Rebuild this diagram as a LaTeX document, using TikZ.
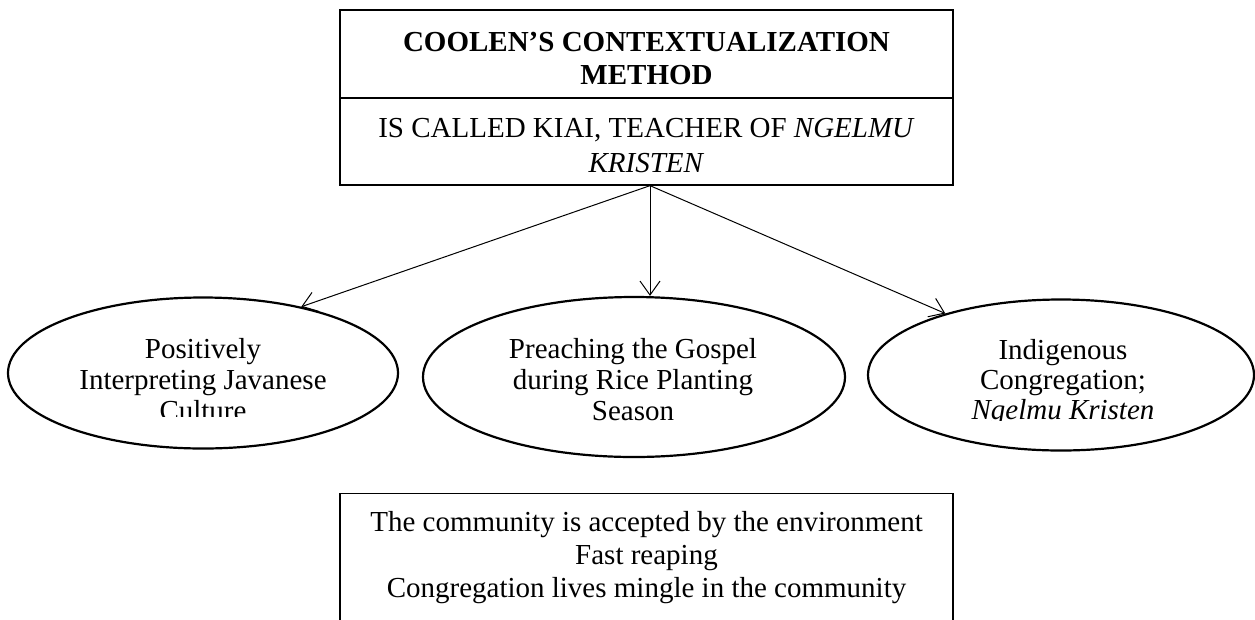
\documentclass[tikz,border=0pt]{standalone}
\usepackage{fontspec}
\setmainfont{Liberation Serif}
\usetikzlibrary{arrows.meta,shapes.geometric}
\begin{document}
\begin{tikzpicture}[x=1pt,y=-1pt,
  txt/.style={font=\fontsize{29}{33}\selectfont},
  boxstyle/.style={draw, line width=1.3pt, rectangle, minimum width=613pt, inner sep=0pt},
  lbl/.style={txt, align=center, inner sep=0pt},
  ell/.style={draw, ellipse, line width=2.2pt, inner sep=0pt},
  conn/.style={line width=1pt, -{Straight Barb[length=14pt,width=20pt,line width=1pt]}}]
\clip (0,0) rectangle (1255,619);
\fill[white] (0,0) rectangle (1255,619);
% top box
\node[boxstyle, minimum height=88pt,
  label={[lbl, font=\fontsize{29}{33}\selectfont\bfseries, yshift=-4.5pt]center:COOLEN’S CONTEXTUALIZATION\\METHOD}]
  (title) at (646.5,54) {};
\node[boxstyle, minimum height=87pt,
  label={[lbl, font=\fontsize{29}{35}\selectfont, yshift=-4.5pt]center:IS CALLED KIAI, TEACHER OF \textit{NGELMU}\\\textit{KRISTEN}}]
  (sub) at (646.5,141.5) {};
% ellipses
\node[ell, minimum width=390pt, minimum height=151pt] (e1) at (203,373) {};
\node[ell, minimum width=422pt, minimum height=160pt] (e2) at (634,377) {};
\node[ell, minimum width=386pt, minimum height=151pt] (e3) at (1061,375) {};
\begin{scope}
  \clip (0,0) rectangle (420,416);
  \node[lbl, font=\fontsize{29}{31}\selectfont] (t1) at (203,380) {Positively\\Interpreting Javanese\\Culture};
\end{scope}
\node[lbl, font=\fontsize{29}{31}\selectfont] (t2) at (633,380) {Preaching the Gospel\\during Rice Planting\\Season};
\begin{scope}
  \clip (850,0) rectangle (1255,420);
  \node[lbl, font=\fontsize{29}{30}\selectfont] (t3) at (1063,383) {Indigenous\\Congregation;\\\textit{Ngelmu Kristen}};
\end{scope}
% result box
\node[boxstyle, anchor=north, minimum height=200pt,
  label={[lbl, font=\fontsize{29}{33}\selectfont, yshift=36pt]center:The community is accepted by the environment\\Fast reaping\\Congregation lives mingle in the community}]
  (res) at (646.5,493) {};
% connectors
\coordinate (src) at ([xshift=3.5pt]sub.south);
\draw[conn] (src) -- (e1.34);
\draw[conn] (src) -- (e2.north -| src);
\draw[conn] (src) -- (e3.152);
\end{tikzpicture}
\end{document}
